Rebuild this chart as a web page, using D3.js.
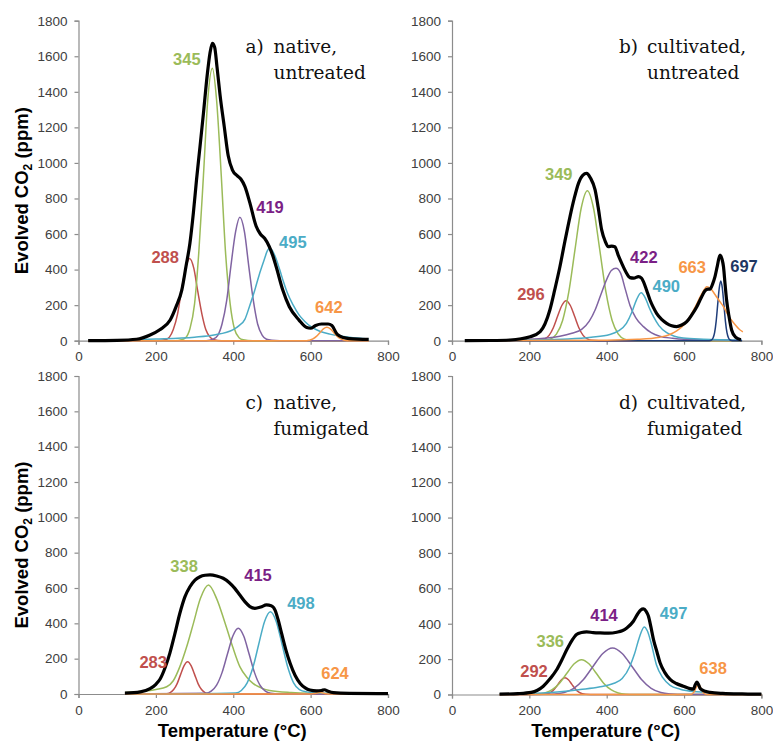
<!DOCTYPE html>
<html>
<head>
<meta charset="utf-8">
<script src="https://cdn.jsdelivr.net/npm/d3@7"></script>
<style>
  body { margin: 0; background: #fff; }
</style>
</head>
<body>
<svg id="chart" width="773" height="742"></svg>
<script>
// ── data: [temperature °C, evolved CO2 ppm] ──────────────────────────────────
const xTicks = [0, 200, 400, 600, 800];
const yTicks = [0, 200, 400, 600, 800, 1000, 1200, 1400, 1600, 1800];

// a) native, untreated
const aTotal  = [[25,0],[100,2],[150,8],[185,32],[210,62],[237,116],[252,190],[267,285],[278,420],[288,548],[297,720],[305,904],[314,1090],[323,1280],[333,1500],[340,1620],[346,1673],[352,1650],[358,1540],[366,1380],[377,1200],[387,1040],[398,960],[410,928],[420,908],[430,868],[443,775],[459,645],[470,600],[481,576],[493,530],[502,480],[511,416],[528,285],[545,191],[570,116],[590,74],[600,70],[613,86],[628,94],[645,94],[655,85],[669,35],[685,18],[700,12],[750,7]];
const aRed    = [[25,0],[200,0],[224,5],[235,20],[245,63],[256,150],[266,281],[277,408],[287,463],[298,408],[308,281],[319,150],[329,63],[340,20],[350,5],[370,0],[750,0]];
const aGreen  = [[25,0],[250,0],[266,5],[277,17],[288,67],[300,207],[311,498],[323,930],[334,1351],[346,1532],[357,1351],[369,930],[380,498],[392,207],[403,67],[415,17],[426,5],[450,0],[750,0]];
const aPurple = [[25,0],[330,0],[348,8],[360,30],[371,94],[383,225],[394,421],[406,612],[417,694],[429,612],[440,421],[452,225],[463,94],[475,30],[486,8],[500,2],[520,0],[750,0]];
const aCyan   = [[25,3],[100,5],[200,10],[300,20],[350,32],[400,62],[415,85],[430,120],[443,200],[455,280],[467,370],[480,455],[488,505],[493,520],[500,510],[510,465],[520,400],[530,330],[540,268],[555,200],[570,145],[585,108],[600,80],[625,52],[650,37],[700,20],[750,10]];
const aOrange = [[25,0],[590,0],[597,3],[606,10],[615,24],[624,45],[633,66],[642,75],[651,66],[660,45],[669,24],[678,10],[687,3],[700,0],[750,0]];

// b) cultivated, untreated
const bTotal  = [[33,0],[100,1],[150,4],[202,22],[228,51],[253,173],[266,290],[279,416],[292,560],[305,697],[316,800],[327,885],[338,930],[348,941],[358,915],[370,848],[378,750],[387,623],[396,560],[404,529],[413,532],[421,529],[430,480],[439,435],[450,385],[460,355],[470,352],[482,360],[490,352],[495,332],[503,285],[512,229],[520,190],[529,154],[542,120],[555,98],[568,84],[581,79],[594,88],[607,107],[620,145],[633,191],[644,240],[654,280],[662,290],[667,290],[674,320],[680,360],[686,420],[693,482],[698,460],[702,416],[706,320],[710,229],[716,140],[723,60],[733,20],[747,5]];
const bRed    = [[100,0],[229,2],[240,10],[251,30],[262,73],[273,137],[284,198],[295,225],[306,198],[317,137],[328,73],[339,30],[350,10],[361,2],[380,0],[750,0]];
const bGreen  = [[100,0],[238,2],[254,9],[270,37],[286,114],[302,274],[318,512],[334,745],[350,844],[366,745],[382,512],[398,274],[414,114],[430,37],[446,9],[462,2],[480,0],[750,0]];
const bPurple = [[100,3],[200,8],[279,25],[310,42],[336,65],[355,110],[370,173],[385,260],[400,345],[412,395],[424,407],[436,380],[448,290],[460,200],[475,130],[495,79],[515,45],[537,25],[570,14],[600,8],[650,5],[750,2]];
const bCyan   = [[100,2],[200,4],[300,10],[360,20],[408,35],[430,55],[451,98],[465,160],[477,230],[489,270],[500,240],[510,185],[521,135],[535,85],[555,45],[575,25],[598,15],[650,8],[750,3]];
const bOrange = [[100,0],[400,3],[480,8],[537,20],[560,32],[581,55],[600,90],[615,135],[630,195],[645,260],[659,304],[668,295],[680,260],[692,222],[702,191],[715,140],[730,95],[745,60],[752,50]];
const bNavy   = [[100,0],[665,0],[671,4],[675,15],[679,45],[683,109],[687,204],[691,296],[695,336],[699,296],[703,204],[707,109],[711,45],[715,15],[719,4],[725,0],[750,0]];

// c) native, fumigated
const cTotal  = [[120,5],[160,12],[185,30],[200,55],[211,85],[224,150],[236,230],[249,340],[262,457],[275,550],[288,607],[301,645],[314,664],[327,672],[340,674],[357,668],[374,655],[390,630],[404,598],[417,560],[430,523],[443,495],[456,485],[471,492],[486,504],[498,500],[508,475],[516,420],[525,343],[536,250],[547,174],[560,105],[573,60],[586,35],[598,23],[615,18],[628,20],[636,24],[645,16],[659,8],[700,4],[800,2]];
const cRed    = [[120,0],[228,2],[237,8],[246,25],[255,59],[264,111],[273,161],[282,183],[291,161],[300,111],[309,59],[318,25],[327,8],[336,2],[360,0],[800,0]];
const cGreen  = [[120,8],[160,14],[200,25],[228,41],[245,75],[262,155],[280,270],[297,400],[315,540],[336,617],[357,540],[379,400],[398,270],[417,155],[435,95],[451,60],[475,32],[494,20],[550,8],[600,4],[800,0]];
const cPurple = [[120,0],[329,4],[343,16],[357,50],[371,121],[385,226],[399,328],[413,372],[427,328],[441,226],[455,121],[469,50],[483,16],[497,4],[520,0],[800,0]];
const cCyan   = [[120,0],[300,1],[406,5],[421,20],[436,63],[451,151],[466,283],[481,411],[496,466],[511,411],[526,283],[541,151],[556,63],[571,25],[590,12],[620,6],[700,3],[800,1]];
const cOrange = [[120,0],[600,0],[612,3],[624,8],[636,3],[650,0],[800,0]];

// d) cultivated, fumigated
const dTotal  = [[123,2],[170,5],[205,12],[236,47],[254,90],[271,141],[284,195],[297,254],[310,305],[322,339],[335,350],[348,354],[365,350],[383,348],[405,347],[426,352],[440,360],[452,376],[469,414],[480,455],[488,478],[495,484],[502,470],[508,442],[514,385],[521,310],[530,240],[538,179],[550,125],[564,85],[580,62],[598,47],[615,33],[624,30],[629,55],[633,70],[637,58],[642,33],[655,18],[667,12],[700,6],[750,3],[800,2]];
const dRed    = [[123,0],[238,1],[247,4],[256,13],[265,31],[274,57],[283,83],[292,94],[301,83],[310,57],[319,31],[328,13],[337,4],[346,1],[370,0],[800,0]];
const dGreen  = [[123,0],[221,2],[240,9],[259,27],[278,64],[297,120],[316,174],[335,197],[354,174],[373,120],[392,64],[411,27],[430,9],[449,2],[470,0],[800,0]];
const dPurple = [[123,0],[265,3],[290,11],[315,35],[340,85],[365,160],[390,232],[415,263],[440,232],[465,160],[490,85],[515,35],[540,11],[565,3],[600,0],[800,0]];
const dCyan   = [[123,3],[200,6],[245,10],[300,20],[331,28],[380,42],[417,62],[440,90],[460,160],[472,230],[484,320],[497,382],[505,360],[515,290],[529,165],[545,95],[564,52],[590,30],[633,15],[700,7],[800,3]];
const dOrange = [[123,0],[615,0],[620,2],[623,8],[627,18],[630,34],[634,49],[637,56],[641,49],[644,34],[648,18],[651,8],[655,2],[660,0],[800,0]];

// peak temperatures shown as labels
const aPeaks = ["288", "345", "419", "495", "642"];
const bPeaks = ["296", "349", "422", "490", "663", "697"];
const cPeaks = ["283", "338", "415", "498", "624"];
const dPeaks = ["292", "336", "414", "497", "638"];

// ── styles ──────────────────────────────────────────────────────────────────
const lineColor = {
  red: "#c0504d", green: "#9bbb59", purple: "#8064a2",
  cyan: "#4bacc6", orange: "#f79646", navy: "#1f3d7a"
};
const textColor = {
  red: "#c0504d", green: "#9bbb59", purple: "#7b1f86",
  cyan: "#4bacc6", orange: "#f79646", navy: "#1f3864"
};
const sans  = "'Liberation Sans', Arial, sans-serif";
const serif = "'DejaVu Serif', serif";

// label anchors in data units (°C, ppm)
const panels = [
  { tag: "a)", title: ["native,", "untreated"], left: 78.5, top: 20.7, width: 309.5, height: 320,
    yTitle: true, xTitle: false,
    series: [["red", aRed], ["green", aGreen], ["purple", aPurple], ["cyan", aCyan], ["orange", aOrange]],
    total: aTotal,
    labels: [["red", aPeaks[0], 224, 437], ["green", aPeaks[1], 280, 1551], ["purple", aPeaks[2], 495, 718],
             ["cyan", aPeaks[3], 554, 521], ["orange", aPeaks[4], 647, 156]] },
  { tag: "b)", title: ["cultivated,", "untreated"], left: 452, top: 20.7, width: 309.4, height: 320,
    yTitle: false, xTitle: false,
    series: [["red", bRed], ["green", bGreen], ["purple", bPurple], ["cyan", bCyan], ["navy", bNavy], ["orange", bOrange]],
    total: bTotal,
    labels: [["red", bPeaks[0], 204, 229], ["green", bPeaks[1], 276, 904], ["purple", bPeaks[2], 496, 437],
             ["cyan", bPeaks[3], 554, 276], ["orange", bPeaks[4], 621, 381], ["navy", bPeaks[5], 755, 388]] },
  { tag: "c)", title: ["native,", "fumigated"], left: 78.5, top: 376, width: 309.5, height: 318,
    yTitle: true, xTitle: true,
    series: [["red", cRed], ["green", cGreen], ["purple", cPurple], ["cyan", cCyan], ["orange", cOrange]],
    total: cTotal,
    labels: [["red", cPeaks[0], 193, 149], ["green", cPeaks[1], 273, 692], ["purple", cPeaks[2], 464, 641],
             ["cyan", cPeaks[3], 575, 481], ["orange", cPeaks[4], 663, 85]] },
  { tag: "d)", title: ["cultivated,", "fumigated"], left: 452, top: 376, width: 309.4, height: 318.5,
    yTitle: false, xTitle: true,
    series: [["red", dRed], ["green", dGreen], ["purple", dPurple], ["cyan", dCyan], ["orange", dOrange]],
    total: dTotal,
    labels: [["red", dPeaks[0], 212, 97], ["green", dPeaks[1], 254, 266], ["purple", dPeaks[2], 393, 416],
             ["cyan", dPeaks[3], 573, 424], ["orange", dPeaks[4], 675, 116]] }
];

const svg = d3.select("#chart");
svg.append("rect").attr("width", 773).attr("height", 742).attr("fill", "#fff");

panels.forEach(p => {
  const g = svg.append("g").attr("transform", `translate(${p.left},${p.top})`);

  const x = d3.scaleLinear().domain([0, 800]).range([0, p.width]);
  const y = d3.scaleLinear().domain([0, 1800]).range([p.height, 0]);

  // axes
  const yAxis = g.append("g")
    .call(d3.axisLeft(y).tickValues(yTicks).tickSize(4).tickPadding(7).tickFormat(d3.format("d")));
  const xAxis = g.append("g")
    .attr("transform", `translate(0,${p.height})`)
    .call(d3.axisBottom(x).tickValues(xTicks).tickSize(4).tickPadding(7).tickFormat(d3.format("d")));
  [yAxis, xAxis].forEach(ax => {
    ax.select(".domain").attr("stroke", "#8c8c8c").attr("stroke-width", 1.2);
    ax.selectAll(".tick line").attr("stroke", "#8c8c8c").attr("stroke-width", 1.2);
    ax.selectAll(".tick text")
      .style("font-family", sans).style("font-size", "13.5px").attr("fill", "#404040");
  });

  // component peaks
  const line = d3.line()
    .x(d => x(d[0]))
    .y(d => y(d[1]))
    .curve(d3.curveMonotoneX);

  p.series.forEach(([key, data]) => {
    g.append("path")
      .datum(data)
      .attr("fill", "none")
      .attr("stroke", lineColor[key])
      .attr("stroke-width", 1.5)
      .attr("d", line);
  });

  // measured total
  g.append("path")
    .datum(p.total)
    .attr("fill", "none")
    .attr("stroke", "#000")
    .attr("stroke-width", 3.2)
    .attr("stroke-linejoin", "round")
    .attr("d", line);

  // peak temperature labels
  p.labels.forEach(([key, txt, t, v]) => {
    g.append("text")
      .attr("x", x(t)).attr("y", y(v))
      .attr("text-anchor", "middle")
      .style("font-family", sans).style("font-size", "16.5px").style("font-weight", "bold")
      .attr("fill", textColor[key])
      .text(txt);
  });

  // panel caption
  const cap = g.append("g")
    .style("font-family", serif).style("font-size", "18.5px").attr("fill", "#111");
  cap.append("text").attr("x", 167).attr("y", 32.5).text(p.tag);
  cap.append("text").attr("x", 195).attr("y", 32.5).text(p.title[0]);
  cap.append("text").attr("x", 195).attr("y", 58.5).text(p.title[1]);

  // axis titles
  if (p.yTitle) {
    const yt = svg.append("text")
      .attr("transform", `translate(28,${p.top + p.height / 2 + 10}) rotate(-90)`)
      .attr("text-anchor", "middle")
      .style("font-family", sans).style("font-size", "18.5px").style("font-weight", "bold")
      .attr("fill", "#000");
    yt.append("tspan").text("Evolved CO");
    yt.append("tspan").attr("dy", 4).style("font-size", "12px").text("2");
    yt.append("tspan").attr("dy", -4).text(" (ppm)");
  }
  if (p.xTitle) {
    svg.append("text")
      .attr("x", p.left + p.width / 2 - 1)
      .attr("y", 737)
      .attr("text-anchor", "middle")
      .style("font-family", sans).style("font-size", "18.5px").style("font-weight", "bold")
      .attr("fill", "#000")
      .text("Temperature (°C)");
  }
});
</script>
</body>
</html>
